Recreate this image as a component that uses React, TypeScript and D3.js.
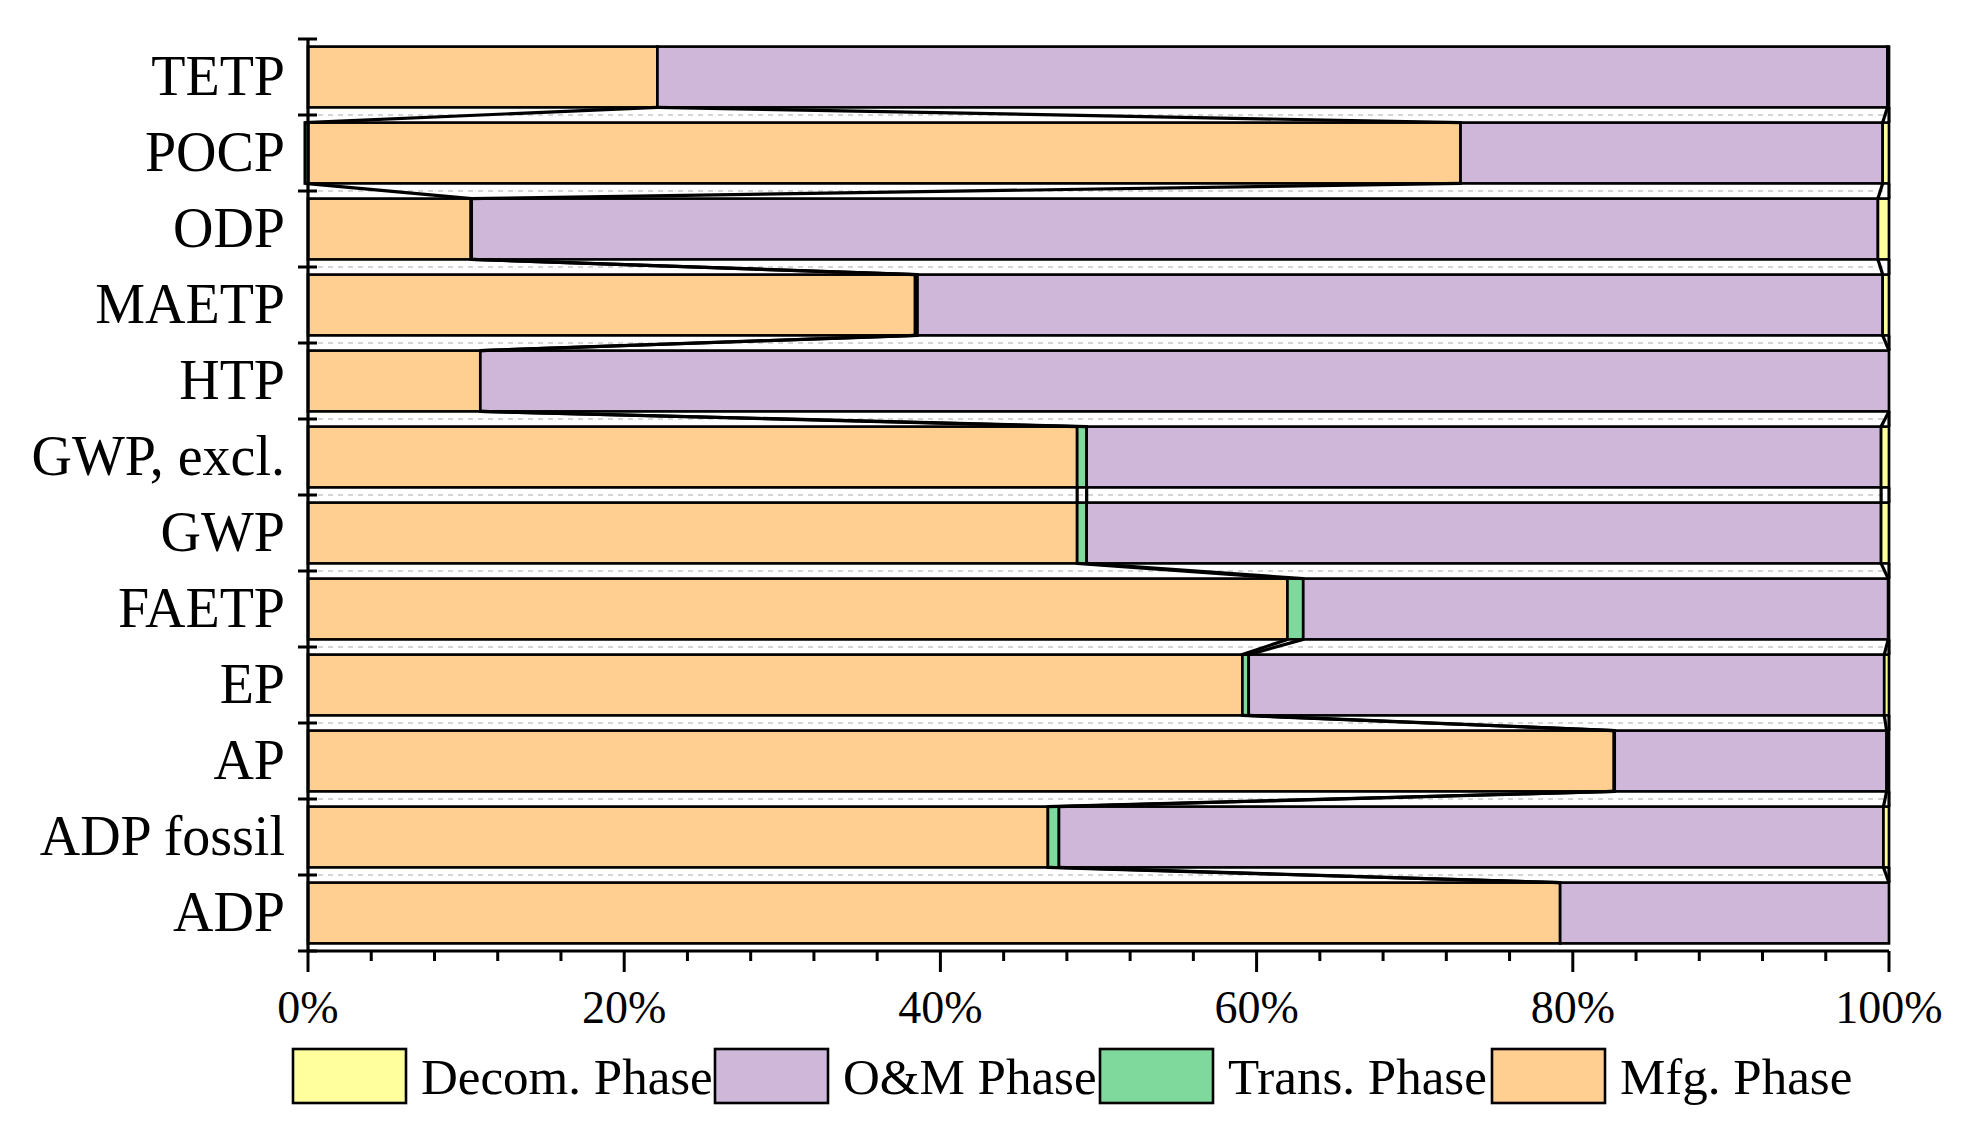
import React from "react";
import * as d3 from "d3";

// Categories, top to bottom as displayed
const categories = ["TETP", "POCP", "ODP", "MAETP", "HTP", "GWP, excl.", "GWP", "FAETP", "EP", "AP", "ADP fossil", "ADP"];

// Share of each phase (%)
const mfg = [22.1, 72.9, 10.3, 38.4, 10.9, 48.65, 48.65, 61.95, 59.1, 82.6, 46.8, 79.2];
const trans = [0, -0.2, 0.05, 0.15, 0, 0.6, 0.6, 1.0, 0.4, 0.05, 0.7, 0];
const om = [77.8, 26.7, 88.95, 61.05, 89.1, 50.25, 50.25, 37.0, 40.2, 17.2, 52.15, 20.8];
const decom = [0.1, 0.4, 0.7, 0.4, 0, 0.5, 0.5, 0.05, 0.3, 0.15, 0.35, 0];

const seriesNames = ["Mfg. Phase", "Trans. Phase", "O&M Phase", "Decom. Phase"];
const seriesColors = ["#FFCE91", "#7FD89C", "#CFB7DA", "#FFFF9E"];
const seriesValues = [mfg, trans, om, decom];

const legendOrder = [3, 2, 1, 0];
const xTicks = [0, 20, 40, 60, 80, 100];

const W = 1966;
const H = 1141;
const FONT = "'Liberation Serif', 'Times New Roman', serif";

export default function App() {
  const left = 308;
  const right = 1889;
  const top = 39;
  const bottom = 951;

  const x = d3.scaleLinear().domain([0, 100]).range([left, right]);
  const y = d3
    .scaleBand<string>()
    .domain(categories)
    .range([top, bottom])
    .paddingInner(0.2)
    .paddingOuter(0.1);
  const bw = y.bandwidth();
  const step = y.step();

  // stacking with separate positive/negative stacks
  const stacks = categories.map((c, i) => {
    let pos = 0;
    let neg = 0;
    return seriesValues.map((vals, s) => {
      const v = vals[i];
      let x0: number, x1: number, end: number;
      if (v >= 0) {
        x0 = pos;
        x1 = pos + v;
        pos = x1;
        end = x1;
      } else {
        x0 = neg + v;
        x1 = neg;
        neg = x0;
        end = x0;
      }
      return { s, v, x0, x1, end };
    });
  });

  const boundaries = d3.range(categories.length + 1).map((k) => top + k * step);
  const minorTicks = d3.range(0, 101, 4).filter((t) => t % 20 !== 0);

  const legendX = [293, 715, 1100, 1492];

  return (
    <div style={{ position: "absolute", left: 0, top: 0 }}>
      <svg width={W} height={H} style={{ display: "block", background: "#fff" }}>
        {/* dashed gridlines at category boundaries */}
        {boundaries.slice(1, -1).map((b, k) => (
          <line key={"g" + k} x1={left} x2={right} y1={b} y2={b} stroke="#c8c8c8" strokeWidth={1.5} strokeDasharray="5,5" />
        ))}

        {/* bars */}
        {categories.map((c, i) =>
          stacks[i]
            .filter((seg) => seg.v !== 0)
            .map((seg) => (
              <rect
                key={c + seg.s}
                x={x(seg.x0)}
                y={y(c)!}
                width={x(seg.x1) - x(seg.x0)}
                height={bw}
                fill={seriesColors[seg.s]}
                stroke="#000"
                strokeWidth={2.7}
              />
            ))
        )}

        {/* connecting lines */}
        {categories.slice(0, -1).map((c, i) =>
          seriesValues.map((_, s) => (
            <line
              key={"c" + i + "_" + s}
              x1={x(stacks[i][s].end)}
              y1={y(c)! + bw}
              x2={x(stacks[i + 1][s].end)}
              y2={y(categories[i + 1])!}
              stroke="#000"
              strokeWidth={3.2}
            />
          ))
        )}

        {/* y axis */}
        <line x1={left} x2={left} y1={top} y2={bottom} stroke="#000" strokeWidth={3.2} />
        {boundaries.map((b, k) => (
          <line key={"yt" + k} x1={left - 10} x2={left + 9} y1={b} y2={b} stroke="#000" strokeWidth={3} />
        ))}
        {categories.map((c) => (
          <text
            key={"yl" + c}
            x={285}
            y={y(c)! + bw / 2 + 18}
            textAnchor="end"
            fontFamily={FONT}
            fontSize={56}
            fill="#000"
          >
            {c}
          </text>
        ))}

        {/* x axis */}
        <line x1={left} x2={right} y1={bottom} y2={bottom} stroke="#000" strokeWidth={3.2} />
        {xTicks.map((t) => (
          <line key={"xt" + t} x1={x(t)} x2={x(t)} y1={bottom} y2={bottom + 21} stroke="#000" strokeWidth={3} />
        ))}
        {minorTicks.map((t) => (
          <line key={"xm" + t} x1={x(t)} x2={x(t)} y1={bottom} y2={bottom + 10} stroke="#000" strokeWidth={3} />
        ))}
        {xTicks.map((t) => (
          <text key={"xl" + t} x={x(t)} y={1023} textAnchor="middle" fontFamily={FONT} fontSize={46} fill="#000">
            {t + "%"}
          </text>
        ))}

        {/* legend */}
        {legendOrder.map((s, k) => (
          <g key={"lg" + s}>
            <rect x={legendX[k]} y={1049} width={113} height={54} fill={seriesColors[s]} stroke="#000" strokeWidth={2.6} />
            <text x={legendX[k] + 128} y={1094} fontFamily={FONT} fontSize={51} fill="#000">
              {seriesNames[s]}
            </text>
          </g>
        ))}
      </svg>
    </div>
  );
}
